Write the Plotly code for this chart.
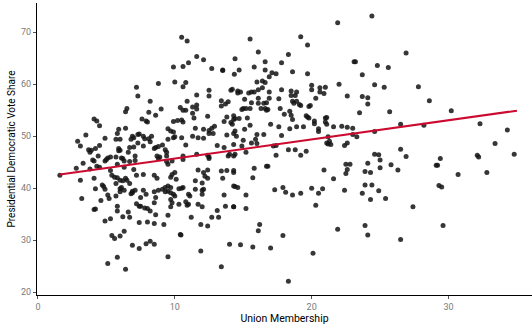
import plotly.graph_objects as go

# Union membership (x) and presidential Democratic vote share (y)
union = [
    7.2, 7.3, 6.5, 6.4, 4.1, 4.3, 4.5, 3.5, 4.9, 5.9, 5.8, 6.4, 5.7, 6.0, 6.9, 7.0, 6.8, 7.3, 2.9, 3.1,
    4.5, 4.2, 3.7, 3.9, 3.8, 5.9, 6.0, 5.9, 6.7, 6.6, 7.0, 7.3, 4.4, 5.3, 5.1, 5.7, 6.1, 7.1,
    1.6, 2.8, 3.3, 3.8, 4.0, 4.1, 4.3, 4.5, 4.9, 5.0, 6.2, 6.3, 5.3, 5.8, 6.3, 6.7, 7.1, 7.0, 7.2, 3.1,
    4.1, 5.4, 5.6, 5.8, 6.0, 6.2, 6.4, 6.5, 6.7, 5.7, 4.7, 4.8, 4.2, 4.9, 6.0, 6.1, 6.3, 6.0, 6.9, 6.8,
    6.9, 5.1, 5.2, 5.7, 4.6, 3.2, 7.2, 7.4, 5.8, 5.8, 4.1, 4.2, 6.6, 6.2, 6.7, 5.3, 4.9, 7.4, 6.3, 5.4,
    5.6, 6.0, 6.9, 7.4, 5.8, 5.1, 6.4,
    10.5, 10.9, 11.6, 12.1, 11.0, 10.6, 9.9, 12.7, 13.5, 13.5, 14.35, 8.8, 10.0, 10.8, 10.6, 12.5, 12.5,
    14.1, 11.6, 10.9, 8.2, 13.4, 13.7, 13.9, 13.4, 10.4, 10.6, 10.8, 11.3, 11.6, 11.6, 9.0, 8.1, 8.6,
    11.3, 11.4, 12.4, 13.8, 14.3, 7.6, 7.9, 8.0, 9.9, 10.2, 10.5, 10.6, 13.6, 14.2, 14.3, 9.5, 9.7, 9.9,
    11.5, 12.1, 12.5, 12.7, 12.9, 12.8, 12.5, 7.4, 13.8, 14.3, 8.3, 8.1, 8.2, 7.8, 7.7, 9.5, 9.9, 10.0,
    10.5, 10.8, 11.3, 11.7, 12.1, 7.7, 8.6, 8.8, 9.1, 9.3, 9.4, 8.5, 13.1, 13.6, 14.0, 12.4, 12.5, 11.6,
    10.6, 8.7, 8.9,
    8.8, 9.4, 9.8, 9.5, 9.4, 10.6, 12.5, 13.9, 14.3, 7.7, 8.5, 8.7, 9.7, 9.8, 10.0, 10.1, 11.7, 12.1,
    12.2, 12.4, 12.4, 11.5, 12.0, 13.4, 13.8, 14.3, 14.3, 13.5, 14.3, 7.1, 7.7, 7.9, 7.5, 7.5, 7.8, 8.0,
    8.2, 8.5, 8.6, 8.5, 8.8, 9.1, 9.3, 9.5, 9.7, 9.5, 9.7, 9.9, 10.0, 9.3, 10.3, 10.5, 10.6, 9.7, 9.8,
    9.7, 10.3, 11.0, 11.1, 10.8, 10.9, 11.0, 11.5, 12.0, 12.1, 12.0, 11.7, 12.0, 13.6, 13.7, 14.3, 13.1,
    12.7, 13.2, 8.6, 9.5, 11.2, 8.0, 8.5, 9.2, 11.9, 12.4, 10.4, 10.45, 8.2, 7.9, 8.5, 11.9, 14.0, 9.5,
    13.4,
    19.2, 19.7, 15.5, 16.1, 18.3, 14.4, 16.6, 17.8, 15.8, 16.6, 14.7, 17.1, 17.4, 16.9, 18.6, 19.7, 16.4,
    16.6, 16.0, 20.0, 20.6, 20.0, 20.6, 21.0, 14.2, 14.6, 14.8, 14.6, 15.4, 15.6, 15.8, 16.1, 16.4, 16.9,
    17.8, 18.5, 18.9, 18.5, 18.8, 15.1, 16.1, 16.9, 17.6, 15.6, 16.1, 16.5, 16.7, 18.6, 18.9, 18.7, 19.1,
    19.2, 20.3, 19.9, 19.8, 15.0, 15.2, 15.5, 14.9, 16.3, 16.6, 16.7, 16.8, 14.4, 14.1, 14.7, 15.3, 17.7,
    18.0, 18.4, 18.5, 18.6, 19.7, 19.6, 19.8, 20.2, 20.5, 20.5, 21.0, 21.1, 17.0, 17.6, 18.4, 18.9, 19.4,
    15.1, 14.4, 15.5, 16.0, 16.5, 15.9, 14.5, 15.0, 17.8, 15.6, 14.9, 14.3, 21.3, 21.2, 14.4, 15.2, 17.4,
    18.3, 18.8, 19.2, 19.6, 16.0,
    15.8, 15.7, 16.7, 16.8, 20.9, 14.4, 14.6, 15.2, 14.3, 15.2, 17.3, 17.9, 18.1, 18.6, 19.2, 20.0, 20.5,
    20.8, 20.3, 16.2, 16.1, 17.9, 14.8, 15.7, 17.0, 20.1, 18.3,
    24.4, 21.9, 26.9, 23.1, 23.2, 24.8, 25.6, 23.7, 22.0, 24.6, 25.3, 27.8, 20.9, 22.6, 23.7, 24.1, 24.1,
    28.6, 23.5, 25.7, 30.2, 21.1, 20.2, 21.0, 21.6, 22.2, 22.6, 23.0, 23.0, 23.3, 24.6, 26.5, 28.2, 32.3,
    34.3, 21.2, 21.4, 21.1, 22.6, 22.4, 17.4, 17.2, 24.6, 24.9, 26.5, 26.9, 29.4, 32.1, 32.2, 33.4, 34.8,
    25.0, 24.1, 22.5, 22.8, 22.5, 22.6, 23.9, 24.3, 25.0, 25.8, 26.3, 21.6, 29.1, 29.2, 30.7, 32.8, 22.4,
    23.7, 23.9, 24.4, 24.9, 25.4, 24.3, 27.4, 29.3, 29.5, 21.9, 23.9, 24.1, 26.5, 29.6,
]
vote = [
    59.4, 57.7, 55.3, 54.7, 53.3, 52.9, 52.0, 50.2, 49.6, 51.3, 50.5, 51.5, 49.4, 49.4, 50.0, 49.7, 49.4, 50.3, 49.0, 48.1,
    48.2, 47.6, 47.4, 47.3, 46.9, 47.6, 47.3, 47.2, 47.8, 46.9, 47.9, 48.7, 46.2, 46.0, 45.8, 46.0, 45.8, 46.2,
    42.5, 43.8, 44.8, 43.7, 45.4, 45.2, 44.2, 44.0, 45.2, 45.5, 45.7, 45.2, 43.4, 44.6, 44.0, 45.1, 45.3, 43.6, 42.5, 41.5,
    41.9, 42.5, 42.1, 42.0, 41.5, 41.4, 41.9, 41.5, 40.9, 40.9, 40.6, 40.3, 39.9, 39.8, 39.9, 40.1, 39.6, 39.3, 39.1, 38.9,
    39.4, 38.7, 38.0, 38.5, 37.6, 38.0, 37.0, 36.5, 36.5, 35.6, 35.9, 36.0, 35.4, 34.5, 34.4, 34.1, 33.7, 33.4, 31.7, 30.9,
    30.3, 30.8, 29.0, 28.4, 26.7, 25.5, 24.4,
    69.0, 68.3, 65.3, 64.7, 64.1, 63.4, 63.3, 63.0, 62.7, 62.6, 61.9, 60.1, 60.4, 60.3, 59.5, 58.8, 57.7,
    58.8, 57.9, 56.7, 56.7, 56.8, 56.2, 56.6, 55.8, 55.5, 55.0, 55.0, 55.6, 56.0, 55.2, 55.2, 54.6, 54.0,
    54.4, 53.5, 53.8, 53.7, 53.9, 53.3, 52.9, 52.7, 52.8, 53.0, 53.1, 52.7, 52.8, 52.3, 53.2, 51.4, 51.0, 50.8,
    51.5, 51.3, 51.1, 51.5, 51.9, 50.5, 50.5, 50.4, 50.2, 50.5, 50.0, 49.5, 48.9, 49.5, 50.0, 49.4, 49.7, 49.9,
    49.7, 48.3, 50.0, 49.7, 49.6, 48.1, 47.8, 48.0, 48.3, 47.4, 46.9, 47.6, 48.2, 47.8, 46.5, 46.3, 46.0, 46.5,
    46.2, 46.2, 46.0,
    45.7, 46.2, 45.2, 44.6, 45.1, 45.5, 45.7, 46.2, 46.2, 42.6, 42.5, 41.9, 42.1, 42.6, 43.0, 41.7, 43.5, 43.0,
    42.3, 41.9, 43.5, 41.4, 41.0, 43.3, 43.4, 43.4, 43.0, 41.9, 40.4, 39.6, 39.6, 38.8, 38.2, 36.5, 36.2, 36.1,
    35.6, 39.3, 38.2, 37.2, 39.6, 39.8, 40.1, 40.4, 40.1, 39.4, 39.1, 38.8, 38.5, 39.3, 39.9, 40.0, 40.1, 37.8, 37.2,
    36.4, 36.9, 38.8, 38.5, 37.4, 36.7, 36.9, 39.8, 39.6, 39.8, 38.8, 36.9, 36.4, 38.7, 36.5, 36.4, 35.7,
    34.4, 34.4, 34.9, 34.8, 34.4, 33.5, 33.2, 33.0, 33.0, 32.7, 31.1, 31.0, 29.8, 29.3, 29.2, 27.9, 29.2, 26.8,
    24.9,
    69.1, 67.5, 68.7, 66.2, 65.7, 64.9, 64.3, 64.1, 63.3, 62.7, 62.7, 62.2, 62.0, 61.4, 62.4, 62.0, 60.6,
    60.3, 60.4, 59.8, 59.3, 58.9, 58.5, 59.4, 59.0, 58.7, 58.5, 58.3, 58.3, 58.5, 58.5, 58.9, 59.3, 58.5,
    58.9, 58.7, 58.5, 57.8, 57.8, 57.1, 57.3, 57.3, 57.2, 56.4, 56.3, 56.3, 56.4, 56.7, 56.7, 56.3, 56.1,
    55.9, 57.3, 55.9, 55.7, 55.3, 55.3, 55.3, 55.1, 55.3, 55.3, 55.0, 55.1, 53.4, 52.6, 53.4, 53.5, 55.3,
    54.2, 54.8, 54.0, 53.2, 53.7, 53.9, 53.5, 52.9, 51.4, 50.9, 53.5, 52.3, 52.3, 51.8, 51.4, 51.8, 51.8,
    51.3, 51.0, 52.1, 50.3, 50.3, 49.4, 50.0, 49.2, 50.1, 48.7, 48.1, 48.4, 49.0, 48.5, 46.5, 46.9, 46.3,
    47.4, 47.4, 46.3, 47.1, 48.6,
    43.8, 42.0, 44.2, 44.2, 43.5, 40.3, 40.1, 38.7, 36.4, 36.1, 39.7, 40.1, 39.2, 38.7, 39.0, 40.0, 39.0,
    39.9, 36.7, 33.0, 31.8, 30.9, 29.1, 28.7, 28.5, 27.5, 22.1,
    73.1, 71.8, 66.0, 64.3, 64.3, 63.6, 63.2, 61.8, 60.0, 59.9, 59.4, 59.5, 58.2, 57.7, 57.6, 57.4, 56.2,
    56.8, 54.5, 54.7, 54.9, 53.6, 52.4, 52.7, 51.8, 51.9, 51.7, 51.5, 50.3, 49.9, 50.9, 52.3, 52.1, 52.4,
    51.2, 49.9, 48.4, 48.7, 48.7, 48.2, 48.2, 48.1, 46.5, 46.4, 47.5, 46.1, 45.7, 46.3, 46.0, 48.6, 46.5,
    45.4, 44.8, 44.6, 44.6, 42.8, 43.6, 43.2, 43.0, 43.9, 44.5, 43.5, 41.8, 44.4, 44.4, 42.6, 43.0, 39.6,
    39.0, 40.6, 40.6, 39.5, 38.0, 37.8, 36.4, 40.5, 40.2, 32.1, 32.8, 31.0, 30.1, 32.8,
]

# Fitted regression line (endpoints)
fit_x = [1.6, 35.0]
fit_y = [42.6, 54.9]

x_ticks = [0, 10, 20, 30]
y_ticks = [20, 30, 40, 50, 60, 70]

fig = go.Figure()
fig.add_trace(go.Scatter(
    x=union, y=vote, mode="markers",
    marker=dict(size=5, color="rgba(20,20,20,0.85)", line=dict(width=0)),
    hoverinfo="skip", showlegend=False,
))
fig.add_trace(go.Scatter(
    x=fit_x, y=fit_y, mode="lines",
    line=dict(color="#CC0A2F", width=2),
    hoverinfo="skip", showlegend=False,
))

axis_common = dict(
    showgrid=False, zeroline=False,
    showline=True, linecolor="black", linewidth=1,
    ticks="outside", ticklen=3, tickcolor="#555555", tickwidth=1,
    tickfont=dict(family="Roboto", size=9, color="#7a7a7a"),
)

fig.update_layout(
    width=532, height=331,
    margin=dict(l=37, r=0, t=3, b=36),
    paper_bgcolor="white", plot_bgcolor="white",
    font=dict(family="Roboto", color="black"),
    xaxis=dict(
        range=[-0.07, 36.1], tickvals=x_ticks,
        title=dict(text="Union Membership", font=dict(family="Roboto", size=10.5, color="black"), standoff=3),
        **axis_common,
    ),
    yaxis=dict(
        range=[19.45, 75.6], tickvals=y_ticks,
        title=dict(text="Presidential Democratic Vote Share", font=dict(family="Roboto", size=10, color="black"), standoff=3),
        **axis_common,
    ),
)

fig.write_html("out.html")
